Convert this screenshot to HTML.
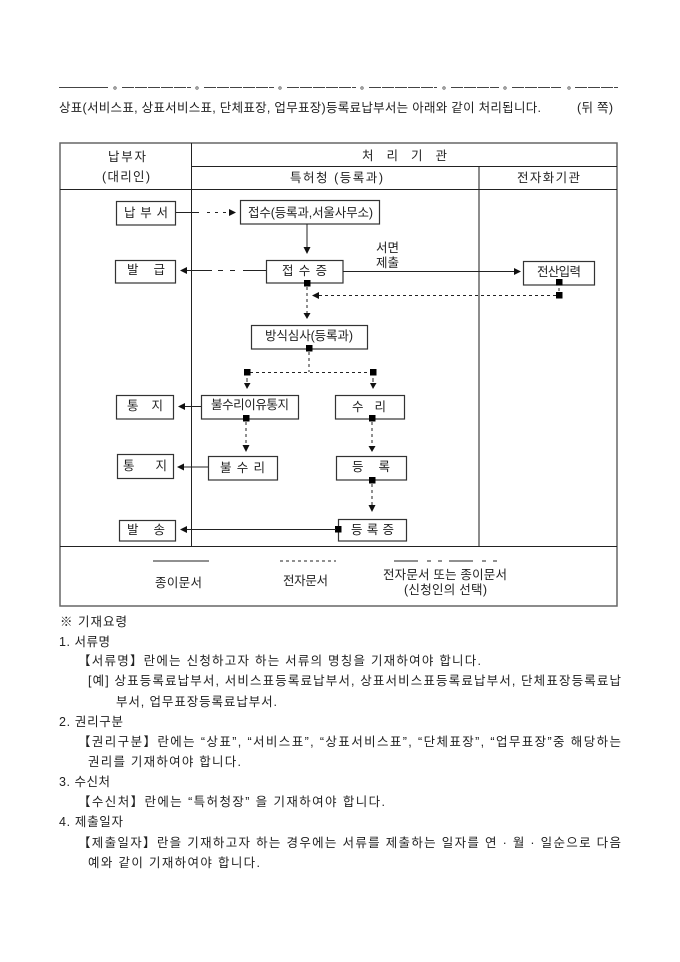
<!DOCTYPE html>
<html lang="ko">
<head>
<meta charset="utf-8">
<title>등록료납부서 처리</title>
<style>
html,body{margin:0;padding:0;background:#fff;width:680px;height:962px;overflow:hidden}
svg{display:block;position:absolute;left:0;top:0}
text{font-family:"Liberation Sans","Noto Sans CJK KR","NanumGothic",sans-serif;font-size:12.5px;fill:#222;white-space:pre}
.b{fill:#fff;stroke:#333;stroke-width:1.2}
.l{stroke:#222;stroke-width:1;fill:none}
.d{stroke:#222;stroke-width:1;fill:none;stroke-dasharray:3 3}
.g{stroke:#666;stroke-width:1.5;fill:none}
.k{stroke:#222;stroke-width:1;fill:none}
.a{fill:#111}
.s{fill:#000}
</style>
</head>
<body>
<svg width="680" height="962" viewBox="0 0 680 962" xmlns="http://www.w3.org/2000/svg">
<!-- top dashed rule -->
<g stroke="#444" stroke-width="1" fill="none">
<path d="M59 87.5H108" />
<path d="M122 87.5H191M204 87.5H274M287 87.5H356M369 87.5H437M451 87.5H499M512 87.5H561M575 87.5H618" stroke-dasharray="12 1"/>
</g>
<g fill="none" stroke="#555" stroke-width="0.8">
<circle cx="115" cy="88" r="1.2"/><circle cx="197" cy="88" r="1.2"/><circle cx="280" cy="88" r="1.2"/><circle cx="362" cy="88" r="1.2"/><circle cx="444" cy="88" r="1.2"/><circle cx="505" cy="88" r="1.2"/><circle cx="569" cy="88" r="1.2"/>
</g>
<text x="59" y="112" textLength="482" lengthAdjust="spacing">상표(서비스표, 상표서비스표, 단체표장, 업무표장)등록료납부서는 아래와 같이 처리됩니다.</text>
<text x="577" y="112" textLength="36" lengthAdjust="spacing">(뒤 쪽)</text>

<!-- table frame -->
<rect class="g" x="60" y="143" width="557" height="463"/>
<path class="k" d="M191.5 143V546"/>
<path class="g" d="M479 167V546"/>
<path class="k" d="M191.5 166.5H617M60 189.5H617M60 546.5H617"/>

<text x="108" y="161" textLength="38" lengthAdjust="spacing">납부자</text>
<text x="102" y="181" textLength="48" lengthAdjust="spacing">(대리인)</text>
<text x="362" y="160" textLength="85" lengthAdjust="spacing">처 리 기 관</text>
<text x="290" y="182" textLength="93" lengthAdjust="spacing">특허청 (등록과)</text>
<text x="517" y="182" textLength="63" lengthAdjust="spacing">전자화기관</text>

<!-- boxes -->
<rect class="b" x="116.500" y="201.500" width="59" height="23.500"/>
<rect class="b" x="240.500" y="200.500" width="139" height="23.500"/>
<rect class="b" x="115.500" y="260.500" width="60" height="22.500"/>
<rect class="b" x="266.500" y="260.500" width="76.500" height="22.500"/>
<rect class="b" x="523.500" y="261.500" width="71" height="23.500"/>
<rect class="b" x="251.500" y="325.500" width="116" height="23.500"/>
<rect class="b" x="116.500" y="395.500" width="57" height="23.500"/>
<rect class="b" x="201.500" y="395.500" width="97" height="23.500"/>
<rect class="b" x="335.500" y="395.500" width="69" height="23.500"/>
<rect class="b" x="117.500" y="454.500" width="56" height="24"/>
<rect class="b" x="208.500" y="456.500" width="69" height="23.500"/>
<rect class="b" x="336.500" y="456.500" width="70" height="23.500"/>
<rect class="b" x="119.500" y="520.500" width="56" height="20.500"/>
<rect class="b" x="338.500" y="519.500" width="68" height="21.500"/>

<!-- box labels -->
<text x="124" y="217" textLength="44" lengthAdjust="spacing">납 부 서</text>
<text x="248" y="217" textLength="125" lengthAdjust="spacing">접수(등록과,서울사무소)</text>
<text x="127" y="274" textLength="38" lengthAdjust="spacing">발    급</text>
<text x="282" y="275" textLength="45" lengthAdjust="spacing">접 수 증</text>
<text x="376" y="252" textLength="23" lengthAdjust="spacing">서면</text>
<text x="376" y="267" textLength="23" lengthAdjust="spacing">제출</text>
<text x="537" y="276" textLength="44" lengthAdjust="spacing">전산입력</text>
<text x="265" y="340" textLength="88" lengthAdjust="spacing">방식심사(등록과)</text>
<text x="127" y="410" textLength="36" lengthAdjust="spacing">통    지</text>
<text x="211" y="409" textLength="78" lengthAdjust="spacing">불수리이유통지</text>
<text x="352" y="411" textLength="34" lengthAdjust="spacing">수   리</text>
<text x="123" y="470" textLength="44" lengthAdjust="spacing">통    지</text>
<text x="220" y="472" textLength="45" lengthAdjust="spacing">불 수 리</text>
<text x="352" y="471" textLength="38" lengthAdjust="spacing">등    록</text>
<text x="127" y="534" textLength="38" lengthAdjust="spacing">발    송</text>
<text x="351" y="534" textLength="43" lengthAdjust="spacing">등 록 증</text>

<!-- connectors -->
<path class="l" d="M176 212.500H199"/>
<path class="l" d="M207 212.500H211M215 212.500H219M223 212.500H226" stroke-dasharray="3 5"/>
<polygon class="a" points="229,209 236,212.500 229,216"/>

<path class="l" d="M307 224V248"/>
<polygon class="a" points="303.500,247 310.500,247 307,254"/>

<path class="l" d="M187 270.500H212M218 270.500H223M230 270.500H235M243 270.500H266"/>
<polygon class="a" points="187,267 187,274 180,270.500"/>

<path class="l" d="M343 271.500H516"/>
<polygon class="a" points="514,268 514,275 521,271.500"/>

<rect class="s" x="304" y="280" width="6.500" height="6.500"/>
<path class="d" d="M307 287V314"/>
<polygon class="a" points="303.500,313 310.500,313 307,319"/>

<rect class="s" x="556" y="279" width="6.500" height="6.500"/>
<path class="l" d="M559 288V291"/>
<rect class="s" x="556" y="292" width="6.500" height="6.500"/>
<path class="d" d="M556 295.500H318"/>
<polygon class="a" points="319,292 319,299 312,295.500"/>

<rect class="s" x="306" y="345" width="6.500" height="6.500"/>
<path class="d" d="M309 352V372"/>
<path class="d" d="M250 372.500H370"/>
<rect class="s" x="244" y="369" width="6.500" height="6.500"/>
<rect class="s" x="370" y="369" width="6.500" height="6.500"/>
<path class="l" d="M247 378V382M373 378V382"/>
<polygon class="a" points="244,383 250.500,383 247,389"/>
<polygon class="a" points="370,383 376.500,383 373,389"/>

<path class="l" d="M201 406.500H184"/>
<polygon class="a" points="185,403 185,410 178,406.500"/>
<rect class="s" x="243" y="415" width="6.500" height="6.500"/>
<path class="d" d="M246 422V446"/>
<polygon class="a" points="242.500,445 249.500,445 246,452"/>

<path class="l" d="M208 467H184"/>
<polygon class="a" points="184,463.500 184,470.500 177,467"/>

<rect class="s" x="369" y="415" width="6.500" height="6.500"/>
<path class="d" d="M372 422V446"/>
<polygon class="a" points="368.500,446 375.500,446 372,452"/>

<rect class="s" x="369" y="477" width="6.500" height="6.500"/>
<path class="d" d="M372 484V506"/>
<polygon class="a" points="368.500,505 375.500,505 372,512"/>

<rect class="s" x="335" y="526" width="6.500" height="6.500"/>
<path class="l" d="M336 529.500H186"/>
<polygon class="a" points="187,526 187,533 180,529.500"/>

<!-- legend -->
<path class="l" d="M153 561H209"/>
<path class="d" d="M280 561H336" stroke-dasharray="3 4"/>
<path class="l" d="M394 561H418M427 561H431M438 561H442M449 561H473M482 561H486M493 561H497"/>
<text x="155" y="587" textLength="47" lengthAdjust="spacing">종이문서</text>
<text x="283" y="585" textLength="45" lengthAdjust="spacing">전자문서</text>
<text x="383" y="579" textLength="124" lengthAdjust="spacing">전자문서 또는 종이문서</text>
<text x="404" y="594" textLength="83" lengthAdjust="spacing">(신청인의 선택)</text>

<!-- notes -->
<text x="60" y="626" textLength="67" lengthAdjust="spacing">※ 기재요령</text>
<text x="59" y="646" textLength="51" lengthAdjust="spacing">1. 서류명</text>
<text x="78" y="665" textLength="403" lengthAdjust="spacing">【서류명】란에는 신청하고자 하는 서류의 명칭을 기재하여야 합니다.</text>
<text x="88" y="685" textLength="533" lengthAdjust="spacing">[예] 상표등록료납부서, 서비스표등록료납부서, 상표서비스표등록료납부서, 단체표장등록료납</text>
<text x="116" y="706" textLength="161" lengthAdjust="spacing">부서, 업무표장등록료납부서.</text>
<text x="59" y="726" textLength="64" lengthAdjust="spacing">2. 권리구분</text>
<text x="78" y="746" textLength="543" lengthAdjust="spacing">【권리구분】란에는 “상표”, “서비스표”, “상표서비스표”, “단체표장”, “업무표장”중 해당하는</text>
<text x="88" y="766" textLength="153" lengthAdjust="spacing">권리를 기재하여야 합니다.</text>
<text x="59" y="786" textLength="51" lengthAdjust="spacing">3. 수신처</text>
<text x="78" y="806" textLength="307" lengthAdjust="spacing">【수신처】란에는 “특허청장” 을 기재하여야 합니다.</text>
<text x="59" y="826" textLength="64" lengthAdjust="spacing">4. 제출일자</text>
<text x="78" y="847" textLength="543" lengthAdjust="spacing">【제출일자】란을 기재하고자 하는 경우에는 서류를 제출하는 일자를 연 · 월 · 일순으로 다음</text>
<text x="88" y="867" textLength="172" lengthAdjust="spacing">예와 같이 기재하여야 합니다.</text>
</svg>
</body>
</html>
